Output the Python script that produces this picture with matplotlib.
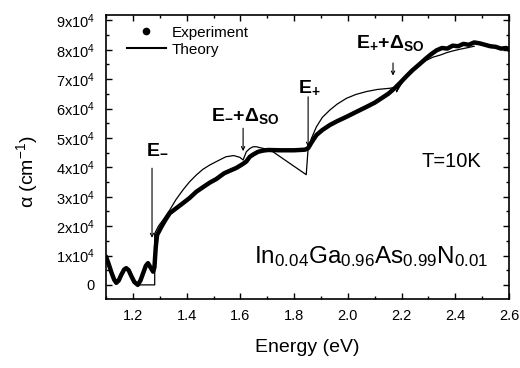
import numpy as np
import matplotlib
matplotlib.use('Agg')
import matplotlib.pyplot as plt
from matplotlib.lines import Line2D
from matplotlib.ticker import MultipleLocator, FixedLocator, FixedFormatter

plt.rcParams['font.family'] = ['Liberation Sans', 'DejaVu Sans']
plt.rcParams['mathtext.fontset'] = 'custom'
plt.rcParams['mathtext.rm'] = 'Liberation Sans'
plt.rcParams['mathtext.it'] = 'Liberation Sans:italic'
plt.rcParams['mathtext.bf'] = 'Liberation Sans:bold'

# experiment (energy in eV, alpha in 1e4 cm^-1)
exp_e = [1.100, 1.110, 1.120, 1.130, 1.138, 1.147, 1.157, 1.167, 1.175, 1.184,
         1.194, 1.205, 1.218, 1.228, 1.238, 1.248, 1.256, 1.265, 1.275, 1.280,
         1.285, 1.290, 1.306, 1.320, 1.337, 1.360, 1.386, 1.410, 1.436, 1.460,
         1.486, 1.510, 1.540, 1.560, 1.585, 1.610, 1.622, 1.635, 1.650, 1.666,
         1.685, 1.703, 1.750, 1.800, 1.840, 1.852, 1.865, 1.883, 1.905, 1.933,
         1.960, 1.995, 2.030, 2.070, 2.100, 2.125, 2.150, 2.174, 2.195, 2.218,
         2.240, 2.268, 2.290, 2.310, 2.330, 2.350, 2.370, 2.390, 2.410, 2.430,
         2.450, 2.470, 2.490, 2.510, 2.530, 2.550, 2.570, 2.590, 2.600]
exp_a = [0.96, 0.70, 0.42, 0.18, 0.07, 0.15, 0.35, 0.52, 0.57, 0.50,
         0.30, 0.10, 0.00, 0.15, 0.40, 0.65, 0.74, 0.60, 0.45, 0.60,
         1.30, 1.70, 1.98, 2.20, 2.44, 2.60, 2.78, 2.95, 3.17, 3.32,
         3.48, 3.60, 3.80, 3.88, 3.98, 4.12, 4.20, 4.36, 4.45, 4.53,
         4.57, 4.59, 4.58, 4.58, 4.60, 4.65, 4.85, 5.10, 5.27, 5.44,
         5.57, 5.72, 5.88, 6.06, 6.20, 6.35, 6.50, 6.69, 6.88, 7.10,
         7.30, 7.52, 7.70, 7.85, 7.98, 8.06, 8.04, 8.14, 8.12, 8.20,
         8.17, 8.25, 8.22, 8.17, 8.12, 8.10, 8.04, 8.06, 8.00]

# theory
th_e = [1.215, 1.281, 1.281, 1.295, 1.315, 1.337, 1.360, 1.386, 1.410, 1.436,
        1.460, 1.486, 1.520, 1.546, 1.575, 1.598, 1.610, 1.622, 1.635, 1.647,
        1.660, 1.672, 1.697, 1.721, 1.845, 1.852, 1.865, 1.883, 1.905, 1.933,
        1.960, 1.995, 2.030, 2.070, 2.110, 2.156, 2.188, 2.181, 2.200, 2.218,
        2.240, 2.268, 2.290, 2.317, 2.344, 2.367, 2.390, 2.418, 2.445, 2.470]
th_a = [0.00, 0.00, 1.75, 2.00, 2.25, 2.55, 2.90, 3.23, 3.50, 3.74,
        3.93, 4.08, 4.24, 4.36, 4.40, 4.34, 4.25, 4.53, 4.64, 4.70,
        4.70, 4.67, 4.62, 4.53, 3.75, 4.65, 5.00, 5.38, 5.70, 5.95,
        6.15, 6.35, 6.48, 6.58, 6.65, 6.69, 6.74, 6.57, 6.85, 7.09,
        7.30, 7.50, 7.63, 7.75, 7.82, 7.90, 7.96, 8.02, 8.07, 8.12]

# transition markers: label, label x, label baseline, arrow x, arrow tail, arrow tip
tr_labels = [r'$\mathbf{E}_{\mathbf{-}}$', r'$\mathbf{E_{-}{+}\Delta_{SO}}$',
             r'$\mathbf{E}_{\mathbf{+}}$', r'$\mathbf{E_{+}{+}\Delta_{SO}}$']
tr_lab_x = [1.250, 1.491, 1.815, 2.032]
tr_lab_y = [4.50, 5.58, 6.58, 8.05]
tr_arr_x = [1.271, 1.610, 1.852, 2.168]
tr_arr_tail = [3.97, 5.33, 6.40, 7.55]
tr_arr_tip = [1.60, 4.55, 4.70, 7.12]

ytick_vals = [0, 1, 2, 3, 4, 5, 6, 7, 8, 9]
ytick_labels = ['0'] + ['%dx10$^4$' % v for v in ytick_vals[1:]]

scale = 1e4

fig = plt.figure(figsize=(5.2, 3.68), dpi=100)
ax = fig.add_axes([0.204, 0.1875, 0.775, 0.7715])

ax.plot(np.array(exp_e), np.array(exp_a) * scale, color='k', lw=3.2,
        solid_capstyle='round', solid_joinstyle='round', zorder=3)
ax.plot(np.array(th_e), np.array(th_a) * scale, color='k', lw=0.9, zorder=4)

for lab, lx, ly, axx, at, ap in zip(tr_labels, tr_lab_x, tr_lab_y,
                                     tr_arr_x, tr_arr_tail, tr_arr_tip):
    ax.text(lx, ly * scale, lab, fontsize=14, ha='left', va='baseline')
    ax.annotate('', xy=(axx, ap * scale), xytext=(axx, at * scale),
                arrowprops=dict(arrowstyle='->', lw=0.8, color='k',
                                mutation_scale=6, shrinkA=0, shrinkB=0))

ax.text(2.274, 4.02 * scale, 'T=10K', fontsize=14.5, ha='left', va='baseline')
ax.text(1.65, 0.74 * scale,
        r'In$_{0.04}$Ga$_{0.96}$As$_{0.99}$N$_{0.01}$',
        fontsize=17.5, ha='left', va='baseline')

ax.set_xlim(1.1, 2.6)
ax.set_ylim(-0.48 * scale, 9.18 * scale)
ax.xaxis.set_major_locator(MultipleLocator(0.2))
ax.xaxis.set_minor_locator(MultipleLocator(0.1))
ax.xaxis.set_major_formatter(plt.FuncFormatter(lambda v, p: '%.1f' % v))
ax.yaxis.set_major_locator(FixedLocator([v * scale for v in ytick_vals]))
ax.yaxis.set_major_formatter(FixedFormatter(ytick_labels))
ax.yaxis.set_minor_locator(MultipleLocator(0.5 * scale))
ax.tick_params(which='both', direction='in', top=True, right=True,
               width=1.0, labelsize=10.5)
ax.tick_params(which='major', length=4.5)
ax.tick_params(which='minor', length=2.5)
ax.tick_params(axis='x', pad=7)
ax.tick_params(axis='y', pad=8)
for s in ax.spines.values():
    s.set_linewidth(1.2)

fig.text(307.5 / 520, 1 - 348 / 368, 'Energy (eV)', fontsize=14,
         ha='center', va='center')
fig.text(27 / 520, 1 - 172 / 368, 'α (cm$^{-1}$)', fontsize=14,
         ha='center', va='center', rotation=90)

handles = [Line2D([], [], color='k', ls='none', marker='o', markersize=4.5),
           Line2D([], [], color='k', lw=1.5)]
ax.legend(handles, ['Experiment', 'Theory'], loc='upper left',
          bbox_to_anchor=(0.051, 0.963), frameon=False, fontsize=11,
          handlelength=2.6, handletextpad=0.35, labelspacing=0.2,
          borderpad=0, borderaxespad=0)

fig.savefig('out.png', dpi=100)
